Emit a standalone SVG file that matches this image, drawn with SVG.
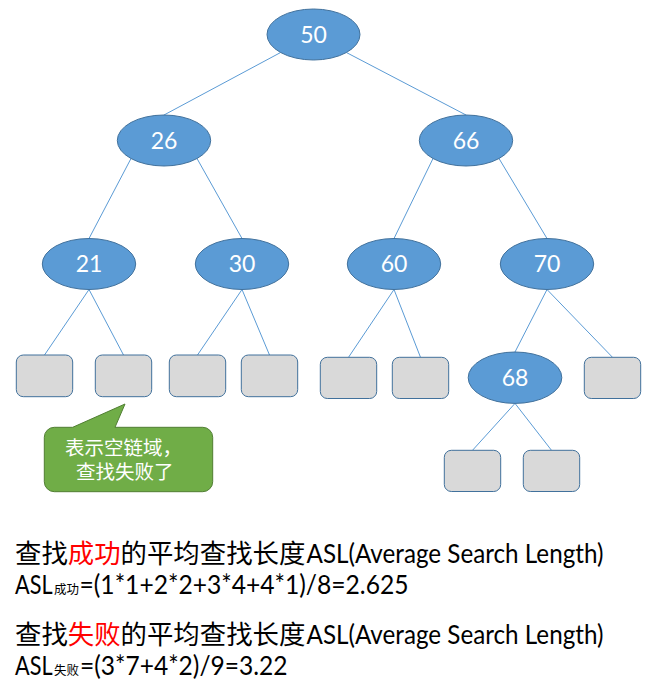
<svg xmlns="http://www.w3.org/2000/svg" width="663" height="689" viewBox="0 0 663 689">
<style>
.edge{stroke:#5B9BD5;stroke-width:1;fill:none}
.node ellipse{fill:#5B9BD5;stroke:#41719C;stroke-width:1}
.node text{font-family:Lato,"Liberation Sans",sans-serif;font-size:23px;fill:#FFFFFF;text-anchor:middle}
.leaf rect{fill:#D9D9D9;stroke:#41719C;stroke-width:1}
.cjk{font-family:"Noto Sans CJK SC",sans-serif;fill:#000000}
.lat{font-family:Lato,"Liberation Sans",sans-serif;fill:#000000}
.red{fill:#FF0000}
.big{font-size:26.4px}
.latbig{font-size:26.67px}
.sub{font-family:"Noto Sans CJK SC",sans-serif;font-size:12.5px}
.call{font-family:"Noto Sans CJK SC",sans-serif;font-size:19.5px;fill:#FFFFFF}
</style>
<rect x="0" y="0" width="663" height="689" fill="#FFFFFF"/>
<g id="connectors">
<line class="edge" x1="280.6" y1="52.5" x2="164" y2="115"/>
<line class="edge" x1="346.4" y1="52.5" x2="466" y2="115"/>
<line class="edge" x1="131" y1="158.5" x2="89" y2="238.5"/>
<line class="edge" x1="197" y1="158.5" x2="242" y2="238.5"/>
<line class="edge" x1="433" y1="158.5" x2="394" y2="238.5"/>
<line class="edge" x1="499" y1="158.5" x2="547" y2="238.5"/>
<line class="edge" x1="89" y1="289.5" x2="44.5" y2="355"/>
<line class="edge" x1="89" y1="289.5" x2="123.5" y2="355"/>
<line class="edge" x1="242" y1="289.5" x2="197.5" y2="355"/>
<line class="edge" x1="242" y1="289.5" x2="269.5" y2="355"/>
<line class="edge" x1="394" y1="289.5" x2="348.5" y2="357.3"/>
<line class="edge" x1="394" y1="289.5" x2="420.5" y2="357.3"/>
<line class="edge" x1="547" y1="289.5" x2="515" y2="352"/>
<line class="edge" x1="547" y1="289.5" x2="612.5" y2="357.3"/>
<line class="edge" x1="515" y1="403.4" x2="472.5" y2="450.3"/>
<line class="edge" x1="515" y1="403.4" x2="551.5" y2="450.3"/>
</g>
<g id="n50" class="node"><ellipse cx="313.5" cy="34.5" rx="46.5" ry="25.5"/><text x="313.5" y="42.5">50</text></g>
<g id="n26" class="node"><ellipse cx="164" cy="140.5" rx="46.7" ry="25.5"/><text x="164" y="148.5">26</text></g>
<g id="n66" class="node"><ellipse cx="466" cy="140.5" rx="46.7" ry="25.5"/><text x="466" y="148.5">66</text></g>
<g id="n21" class="node"><ellipse cx="89" cy="264" rx="46.7" ry="25.5"/><text x="89" y="272">21</text></g>
<g id="n30" class="node"><ellipse cx="242" cy="264" rx="46.7" ry="25.5"/><text x="242" y="272">30</text></g>
<g id="n60" class="node"><ellipse cx="394" cy="264" rx="46.7" ry="25.5"/><text x="394" y="272">60</text></g>
<g id="n70" class="node"><ellipse cx="547" cy="264" rx="46.7" ry="25.5"/><text x="547" y="272">70</text></g>
<g id="n68" class="node"><ellipse cx="515" cy="377.7" rx="46.8" ry="25.7"/><text x="515" y="385.7">68</text></g>
<g id="leaf1" class="leaf"><rect x="16.3" y="355" width="56.4" height="41.7" rx="7"/></g>
<g id="leaf2" class="leaf"><rect x="95.3" y="355" width="56.4" height="41.7" rx="7"/></g>
<g id="leaf3" class="leaf"><rect x="169.3" y="355" width="56.4" height="41.7" rx="7"/></g>
<g id="leaf4" class="leaf"><rect x="241.3" y="355" width="56.4" height="41.7" rx="7"/></g>
<g id="leaf5" class="leaf"><rect x="320.3" y="357.3" width="56.4" height="41.2" rx="7"/></g>
<g id="leaf6" class="leaf"><rect x="392.3" y="357.3" width="56.4" height="41.2" rx="7"/></g>
<g id="leaf7" class="leaf"><rect x="584.3" y="357.3" width="56.4" height="41.2" rx="7"/></g>
<g id="leaf8" class="leaf"><rect x="444.3" y="450.3" width="56.4" height="41.2" rx="7"/></g>
<g id="leaf9" class="leaf"><rect x="523.3" y="450.3" width="56.4" height="41.2" rx="7"/></g>
<g id="callout">
<path d="M54.3,427.3 H72.7 L125,404 L115,427.3 H202.7 A10,10 0 0 1 212.7,437.3 V481.7 A10,10 0 0 1 202.7,491.7 H54.3 A10,10 0 0 1 44.3,481.7 V437.3 A10,10 0 0 1 54.3,427.3 Z" fill="#70AD47" stroke="#507E32" stroke-width="1"/>
<text class="call"><tspan x="65" y="455">表示空链域，</tspan><tspan x="76" y="478.8">查找失败了</tspan></text>
</g>
<g id="formulas">
<text class="cjk big" x="15" y="562.5">查找</text>
<text class="cjk big red" x="67.8" y="562.5">成功</text>
<text class="cjk big" x="120.6" y="562.5">的平均查找长度</text>
<text class="lat latbig" x="306.5" y="562.5" textLength="297" lengthAdjust="spacingAndGlyphs">ASL(Average Search Length)</text>
<text class="lat latbig" y="593.5"><tspan x="15" textLength="37.5" lengthAdjust="spacingAndGlyphs">ASL</tspan><tspan class="sub" x="54">成功</tspan><tspan x="79.5" textLength="329" lengthAdjust="spacingAndGlyphs">=(1*1+2*2+3*4+4*1)/8=2.625</tspan></text>
<text class="cjk big" x="15" y="644">查找</text>
<text class="cjk big red" x="67.8" y="644">失败</text>
<text class="cjk big" x="120.6" y="644">的平均查找长度</text>
<text class="lat latbig" x="306.5" y="644" textLength="297" lengthAdjust="spacingAndGlyphs">ASL(Average Search Length)</text>
<text class="lat latbig" y="675"><tspan x="15" textLength="37.5" lengthAdjust="spacingAndGlyphs">ASL</tspan><tspan class="sub" x="54">失败</tspan><tspan x="80" textLength="207.5" lengthAdjust="spacingAndGlyphs">=(3*7+4*2)/9=3.22</tspan></text>
</g>
</svg>
